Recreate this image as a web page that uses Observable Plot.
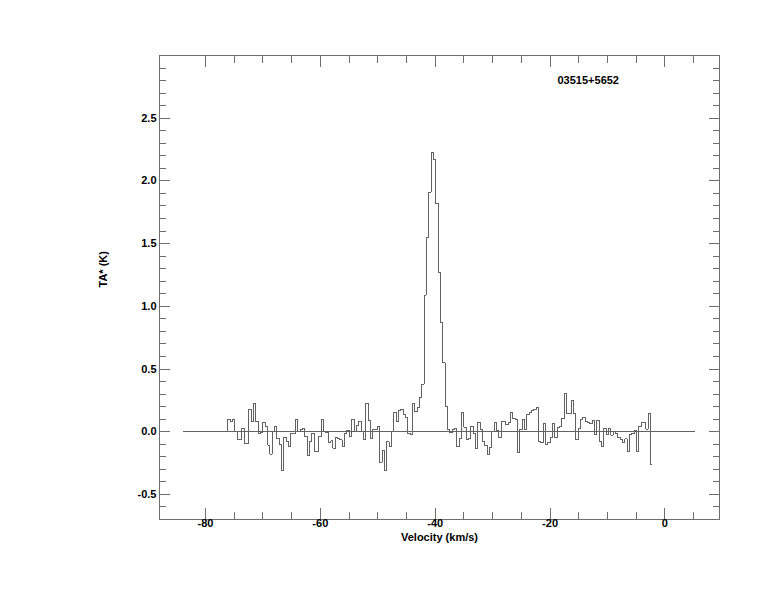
<!DOCTYPE html>
<html>
<head>
<meta charset="utf-8">
<script src="https://cdn.jsdelivr.net/npm/d3@7"></script>
<script src="https://cdn.jsdelivr.net/npm/@observablehq/plot@0.6"></script>
<style>
  body { margin: 0; background: #fff; }
  #chart svg { shape-rendering: crispEdges; }
</style>
</head>
<body>
<div id="chart"></div>
<script>
// ---- data ----
const sourceName = "03515+5652";
const xLabel = "Velocity (km/s)";
const yLabel = "TA* (K)";

// spectrum channel axis (first channel centre and channel width, km/s)
const channelStart = -76.29;
const channelWidth = 0.4065;

// antenna temperature per channel (K)
const tA = [
  0.00, 0.098, 0.080, 0.098, 0.00, -0.066, -0.059, 0.027, -0.093, -0.093,
  0.181, 0.085, 0.226, 0.080, -0.013, -0.005, 0.074, 0.040, -0.106, -0.178,
  0.00, 0.043, -0.053, -0.101, -0.306, -0.045, -0.080, -0.120, -0.013, -0.013,
  0.098, 0.005, 0.019, 0.027, -0.040, -0.186, -0.080, -0.013, -0.160, -0.160,
  -0.035, 0.098, 0.00, -0.008, -0.085, -0.074, -0.133, -0.045, -0.053, -0.066,
  -0.120, -0.013, 0.013, -0.040, 0.098, 0.005, 0.048, 0.085, 0.00, -0.059,
  0.226, 0.093, -0.053, 0.019, 0.019, 0.040,
  -0.245, -0.150, -0.306, -0.080, -0.120, 0.00,
  0.154, 0.080, 0.173, 0.180, 0.138, 0.110, -0.013, -0.019, 0.226, 0.160, 0.190, 0.270, 0.380,
  1.09, 1.55, 1.91, 2.23, 2.17, 1.82, 1.27, 0.87, 0.55, 0.20, 0.016,
  -0.010, 0.020, 0.027, -0.120, -0.056, 0.152,
  0.037, -0.061, -0.056, 0.043, -0.016, -0.136, 0.072, 0.016, -0.082, -0.109,
  -0.181, -0.122, 0.005, 0.072, 0.011, -0.048, 0.085, 0.080, 0.056, 0.072,
  0.152, 0.104, 0.098, -0.168, 0.016, 0.096, 0.016, 0.136, 0.152, 0.170,
  0.175, 0.194,
  -0.082, -0.088, 0.064, -0.100, -0.085, -0.048, 0.064, -0.048, 0.037, 0.043,
  0.104, 0.303, 0.146, 0.146, 0.245, 0.146, -0.066, 0.027, 0.098, 0.114,
  0.080, 0.072, 0.066, 0.088, -0.021, 0.093, -0.080, -0.120, 0.027, -0.021,
  0.027, -0.027, 0.00,
  -0.013, -0.045, -0.066, -0.085, -0.058, -0.160, -0.021, -0.013, 0.013, -0.160,
  0.040, 0.074, 0.074, 0.021, 0.146, -0.260
];

// zero baseline extent (km/s)
const baselineV = [-83.8, 5.2];

// axes
const xDomain = [-88, 9.5];
const yDomain = [-0.7, 3.0];
const xMajor = [-80, -60, -40, -20, 0];
const xTickLabels = ["-80", "-60", "-40", "-20", "0"];
const xMinor = [-75, -70, -65, -55, -50, -45, -35, -30, -25, -15, -10, -5, 5];
const yMajor = [-0.5, 0, 0.5, 1, 1.5, 2, 2.5];
const yTickLabels = ["-0.5", "0.0", "0.5", "1.0", "1.5", "2.0", "2.5"];
const yMinor = [-0.6, -0.4, -0.3, -0.2, -0.1, 0.1, 0.2, 0.3, 0.4, 0.6, 0.7, 0.8, 0.9,
  1.1, 1.2, 1.3, 1.4, 1.6, 1.7, 1.8, 1.9, 2.1, 2.2, 2.3, 2.4, 2.6, 2.7, 2.8, 2.9];

// ---- build ----
const spectrum = tA.map((t, i) => ({v: channelStart + i * channelWidth, t}));
const baseline = baselineV.map(v => ({v, t: 0}));

const axisGray = "#6e6e6e";
const lineGray = "#626262";

const tickMarks = (anchor, ticks, size) =>
  (anchor === "top" || anchor === "bottom")
    ? Plot.axisX(ticks, {anchor, tickSize: -size, stroke: axisGray, fill: "none", label: null})
    : Plot.axisY(ticks, {anchor, tickSize: -size, stroke: axisGray, fill: "none", label: null});

const chart = Plot.plot({
  width: 774,
  height: 612,
  marginLeft: 159,
  marginRight: 55,
  marginTop: 55,
  marginBottom: 93,
  style: {fontFamily: "'Liberation Sans', Arial, Helvetica, sans-serif", fontSize: "11px", fontWeight: "bold", color: "black", background: "white"},
  x: {domain: xDomain},
  y: {domain: yDomain},
  marks: [
    Plot.frame({stroke: axisGray}),
    tickMarks("bottom", xMajor, 11),
    tickMarks("bottom", xMinor, 7),
    tickMarks("top", xMajor, 11),
    tickMarks("top", xMinor, 7),
    tickMarks("left", yMajor, 11),
    tickMarks("left", yMinor, 7),
    tickMarks("right", yMajor, 11),
    tickMarks("right", yMinor, 7),
    Plot.axisX(xMajor, {anchor: "bottom", tickSize: 0, tickPadding: 0, fill: "black", label: null,
      tickFormat: d => xTickLabels[xMajor.indexOf(d)]}),
    Plot.axisY(yMajor, {anchor: "left", tickSize: 0, tickPadding: 3, fill: "black", label: null,
      tickFormat: d => yTickLabels[yMajor.indexOf(d)]}),
    Plot.line(baseline, {x: "v", y: "t", stroke: lineGray, strokeWidth: 1}),
    Plot.line(spectrum, {x: "v", y: "t", curve: "step", stroke: lineGray, strokeWidth: 1}),
    Plot.text([xLabel], {frameAnchor: "bottom", dy: 21, fill: "black"}),
    Plot.text([yLabel], {frameAnchor: "left", dx: -56, rotate: -90, fill: "black"}),
    Plot.text([sourceName], {frameAnchor: "top-right", dx: -162, dy: 21, textAnchor: "start", fill: "black"})
  ]
});
document.getElementById("chart").appendChild(chart);
</script>
</body>
</html>
